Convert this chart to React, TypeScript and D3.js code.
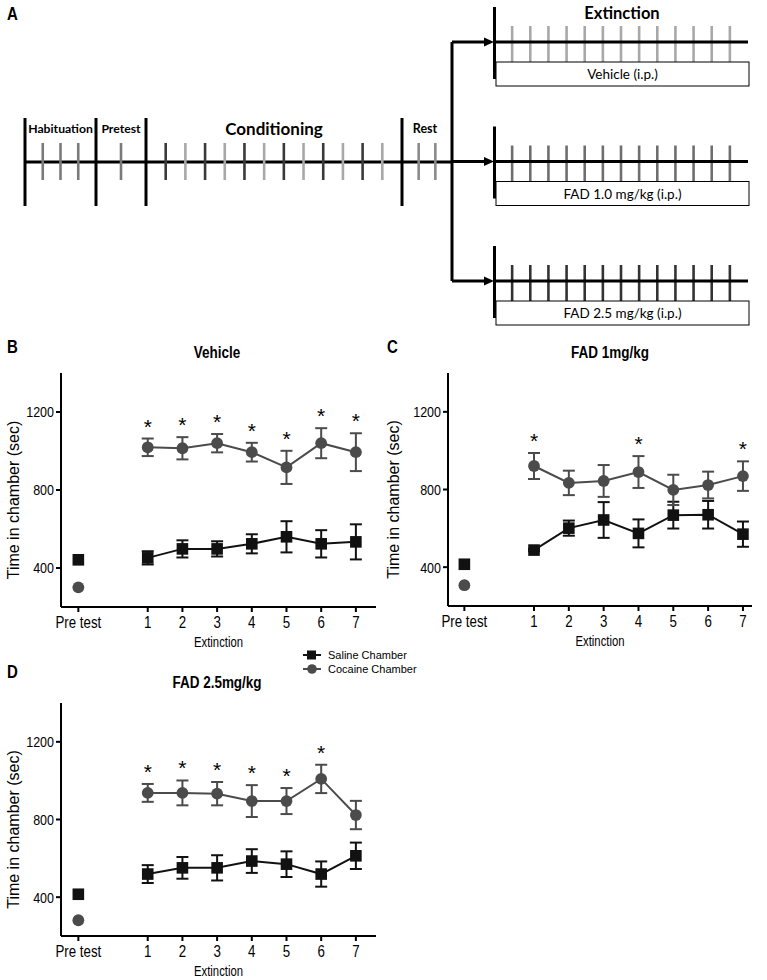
import React from "react";
import * as d3 from "d3";

// ---- panel A: protocol schematic ----
const habituationDays = ["H1", "H2", "H3"];
const pretestDays = ["PT"];
const conditioningDays = ["C1", "C2", "C3", "C4", "C5", "C6", "C7", "C8", "C9", "C10", "C11", "C12"];
const conditioningColors = ["#3a3a3a", "#a8a8a8"]; // alternating chambers
const restDays = ["R1", "R2"];
const extinctionDays = ["E1", "E2", "E3", "E4", "E5", "E6", "E7", "E8", "E9", "E10", "E11", "E12", "E13"];
const extinctionGroups = ["Vehicle (i.p.)", "FAD 1.0 mg/kg (i.p.)", "FAD 2.5 mg/kg (i.p.)"];
const extinctionTickColors = ["#a8a8a8", "#6e6e6e", "#333333"];

// ---- panels B-D ----
const xLabels = ["Pre test", "1", "2", "3", "4", "5", "6", "7"];
const xPos = [-1, 1, 2, 3, 4, 5, 6, 7];
const yTicks = [400, 800, 1200];

const vehSaline = [442, 452, 498, 498, 524, 560, 524, 534];
const vehSalineErr = [0, 34, 44, 39, 49, 80, 70, 90];
const vehCocaine = [301, 1019, 1014, 1040, 994, 916, 1040, 994];
const vehCocaineErr = [0, 45, 57, 47, 48, 85, 77, 97];
const vehSig = [false, true, true, true, true, true, true, true];

const fad1Saline = [415, 488, 601, 643, 574, 668, 670, 570];
const fad1SalineErr = [0, 6, 39, 92, 72, 69, 71, 65];
const fad1Cocaine = [307, 921, 834, 844, 890, 798, 823, 869];
const fad1CocaineErr = [0, 67, 63, 82, 82, 78, 69, 76];
const fad1Sig = [false, true, false, false, true, false, false, true];

const fad25Saline = [415, 519, 551, 551, 586, 570, 519, 613];
const fad25SalineErr = [0, 46, 56, 65, 61, 66, 65, 68];
const fad25Cocaine = [281, 937, 937, 933, 895, 895, 1009, 823];
const fad25CocaineErr = [0, 46, 64, 60, 82, 67, 73, 73];
const fad25Sig = [false, true, true, true, true, true, true, false];

const SALINE = "#111111";
const COCAINE = "#4b4b4b";
const STRETCH = 1.22; // the graph panels' lettering is drawn taller than wide

// text stretched vertically around its anchor point
const T = ({ x, y, rotate = 0, sy = STRETCH, children, ...rest }) => (
  <text transform={`translate(${x},${y}) scale(1,${sy})${rotate ? ` rotate(${rotate})` : ""}`} {...rest}>
    {children}
  </text>
);

const TimelineTicks = ({ days, x, y1, y2, color }) => (
  <g>
    {days.map((d, i) => (
      <line key={d} x1={x(d)} x2={x(d)} y1={y1} y2={y2}
        stroke={typeof color === "function" ? color(i) : color} strokeWidth={2.6} />
    ))}
  </g>
);

const PanelA = () => {
  const lineY = 162;
  const hab = d3.scalePoint().domain(habituationDays).range([25, 96]).padding(1);
  const pre = d3.scalePoint().domain(pretestDays).range([96, 146]).padding(1);
  const cond = d3.scalePoint().domain(conditioningDays).range([146, 402]).padding(1);
  const rest = d3.scalePoint().domain(restDays).range([402, 452]).padding(1);
  const ext = d3.scalePoint().domain(extinctionDays).range([494, 748]).padding(1);
  const branchY = d3.scalePoint().domain(extinctionGroups).range([42, 281]);
  const f = { fontFamily: "Lato, 'Open Sans', sans-serif", fontWeight: 700 };
  return (
    <g>
      <T x={7} y={20} fontSize={15} fontWeight={700}>A</T>
      <line x1={25} x2={452} y1={lineY} y2={lineY} stroke="#000" strokeWidth={3} />
      {[25, 96, 146, 402].map(x => (
        <line key={x} x1={x} x2={x} y1={118} y2={206} stroke="#000" strokeWidth={3} />
      ))}
      <TimelineTicks days={habituationDays} x={hab} y1={143} y2={180} color="#7a7a7a" />
      <TimelineTicks days={pretestDays} x={pre} y1={143} y2={180} color="#7a7a7a" />
      <TimelineTicks days={conditioningDays} x={cond} y1={143} y2={180}
        color={i => conditioningColors[i % 2]} />
      <TimelineTicks days={restDays} x={rest} y1={143} y2={180} color="#8a8a8a" />
      <text {...f} x={60.5} y={133} fontSize={12.2} textAnchor="middle">Habituation</text>
      <text {...f} x={121} y={133} fontSize={12.2} textAnchor="middle">Pretest</text>
      <text {...f} x={274} y={135} fontSize={17} textAnchor="middle">Conditioning</text>
      <text {...f} x={425} y={133} fontSize={12.5} textAnchor="middle">Rest</text>
      <text {...f} x={622} y={19} fontSize={16.5} textAnchor="middle">Extinction</text>
      <line x1={452} x2={452} y1={branchY(extinctionGroups[0])} y2={branchY(extinctionGroups[2])}
        stroke="#000" strokeWidth={3} />
      {extinctionGroups.map((g, i) => {
        const y = branchY(g);
        return (
          <g key={g}>
            <line x1={452} x2={486} y1={y} y2={y} stroke="#000" strokeWidth={3} />
            <path d={`M484,${y - 4.5}L494,${y}L484,${y + 4.5}Z`} fill="#000" />
            <TimelineTicks days={extinctionDays} x={ext} y1={y - 16} y2={y + 20}
              color={extinctionTickColors[i]} />
            <line x1={494} x2={748} y1={y} y2={y} stroke="#000" strokeWidth={3} />
            <rect x={496} y={y + 20} width={253} height={24} fill="#fff" stroke="#000" strokeWidth={1} />
            <line x1={494.5} x2={494.5} y1={y - 35} y2={y + 37} stroke="#000" strokeWidth={3} />
            <text x={622.5} y={y + 37} fontSize={13.5} textAnchor="middle"
              fontFamily="Lato, 'Open Sans', sans-serif">{g}</text>
          </g>
        );
      })}
    </g>
  );
};

const Series = ({ x, y, values, errs, color, shape }) => {
  const line = d3.line<number>().x((_, i) => x(xPos[i + 1])).y(d => y(d));
  return (
    <g>
      {values.map((v, i) => errs[i] > 0 && (
        <g key={i} stroke={color} strokeWidth={2}>
          <line x1={x(xPos[i])} x2={x(xPos[i])} y1={y(v - errs[i])} y2={y(v + errs[i])} />
          <line x1={x(xPos[i]) - 6} x2={x(xPos[i]) + 6} y1={y(v - errs[i])} y2={y(v - errs[i])} />
          <line x1={x(xPos[i]) - 6} x2={x(xPos[i]) + 6} y1={y(v + errs[i])} y2={y(v + errs[i])} />
        </g>
      ))}
      <path d={line(values.slice(1)) || ""} fill="none" stroke={color} strokeWidth={2} />
      {values.map((v, i) => shape === "square"
        ? <rect key={i} x={x(xPos[i]) - 5.8} y={y(v) - 5.8} width={11.6} height={11.6} fill={color} />
        : <circle key={i} cx={x(xPos[i])} cy={y(v)} r={5.9} fill={color} />)}
    </g>
  );
};

const Panel = ({ letter, title, xr, xd, yr, saline, salineErr, cocaine, cocaineErr, sig, titleX, labelX, lx, ly }) => {
  const x = d3.scaleLinear().domain(xd).range(xr);
  const y = d3.scaleLinear().domain([200, 1400]).range(yr);
  const cx = (xr[0] + xr[1]) / 2;
  const cy = (yr[0] + yr[1]) / 2;
  return (
    <g>
      <T x={lx} y={ly} fontSize={15} fontWeight={700}>{letter}</T>
      <T x={titleX} y={yr[1] - 15} fontSize={13.5} fontWeight={700} textAnchor="middle">{title}</T>
      <line x1={xr[0]} x2={xr[0]} y1={yr[1]} y2={yr[0]} stroke="#000" strokeWidth={2} />
      <line x1={xr[0]} x2={xr[1]} y1={yr[0]} y2={yr[0]} stroke="#000" strokeWidth={2} />
      {yTicks.map(t => (
        <g key={t}>
          <line x1={xr[0] - 5} x2={xr[0]} y1={y(t)} y2={y(t)} stroke="#000" strokeWidth={2} />
          <T x={xr[0] - 7} y={y(t)} dy="0.35em" fontSize={12.5} textAnchor="end">{t}</T>
        </g>
      ))}
      {xLabels.map((l, i) => (
        <g key={l}>
          <line x1={x(xPos[i])} x2={x(xPos[i])} y1={yr[0]} y2={yr[0] + 5} stroke="#000" strokeWidth={2} />
          <T x={x(xPos[i])} y={yr[0] + 21} fontSize={13.3} textAnchor="middle">{l}</T>
        </g>
      ))}
      <T x={cx} y={yr[0] + 40} fontSize={11.3} textAnchor="middle">Extinction</T>
      <T x={labelX} y={cy + 10} rotate={-90} sy={1} fontSize={16} textAnchor="middle"
        dy="0.35em">Time in chamber (sec)</T>
      <Series x={x} y={y} values={saline} errs={salineErr} color={SALINE} shape="square" />
      <Series x={x} y={y} values={cocaine} errs={cocaineErr} color={COCAINE} shape="circle" />
      {sig.map((s, i) => s && (
        <text key={i} x={x(xPos[i])} y={y(cocaine[i] + cocaineErr[i]) - 5} fontSize={21}
          textAnchor="middle">*</text>
      ))}
    </g>
  );
};

const Legend = () => {
  const items = [["Saline Chamber", SALINE, "square"], ["Cocaine Chamber", COCAINE, "circle"]];
  const ly = d3.scalePoint().domain(items.map(d => d[0])).range([655, 669]);
  return (
    <g>
      {items.map(([name, color, shape]) => (
        <g key={name} transform={`translate(0,${ly(name)})`}>
          <line x1={303} x2={321} y1={0} y2={0} stroke={color} strokeWidth={2} />
          {shape === "square"
            ? <rect x={307} y={-4.5} width={9} height={9} fill={color} />
            : <circle cx={312} cy={0} r={4.8} fill={color} />}
          <T x={328} y={0} dy="0.35em" sy={1.05} fontSize={11}>{name}</T>
        </g>
      ))}
    </g>
  );
};

export default function App() {
  return (
    <svg width={767} height={980} style={{ position: "absolute", left: 0, top: 0, background: "#fff" }}
      fontFamily="'Liberation Sans', Arial, sans-serif">
      <PanelA />
      <Panel letter="B" title="Vehicle" xr={[61, 376]} xd={[-1.5, 7.58]} yr={[607, 373]}
        saline={vehSaline} salineErr={vehSalineErr} cocaine={vehCocaine} cocaineErr={vehCocaineErr}
        sig={vehSig} titleX={217} labelX={13} lx={7} ly={353} />
      <Panel letter="C" title="FAD 1mg/kg" xr={[448, 752]} xd={[-1.47, 7.26]} yr={[606, 373]}
        saline={fad1Saline} salineErr={fad1SalineErr} cocaine={fad1Cocaine} cocaineErr={fad1CocaineErr}
        sig={fad1Sig} titleX={610} labelX={393} lx={387} ly={353} />
      <Panel letter="D" title="FAD 2.5mg/kg" xr={[61, 376]} xd={[-1.5, 7.58]} yr={[936, 703]}
        saline={fad25Saline} salineErr={fad25SalineErr} cocaine={fad25Cocaine} cocaineErr={fad25CocaineErr}
        sig={fad25Sig} titleX={217} labelX={13} lx={7} ly={678} />
      <Legend />
    </svg>
  );
}
